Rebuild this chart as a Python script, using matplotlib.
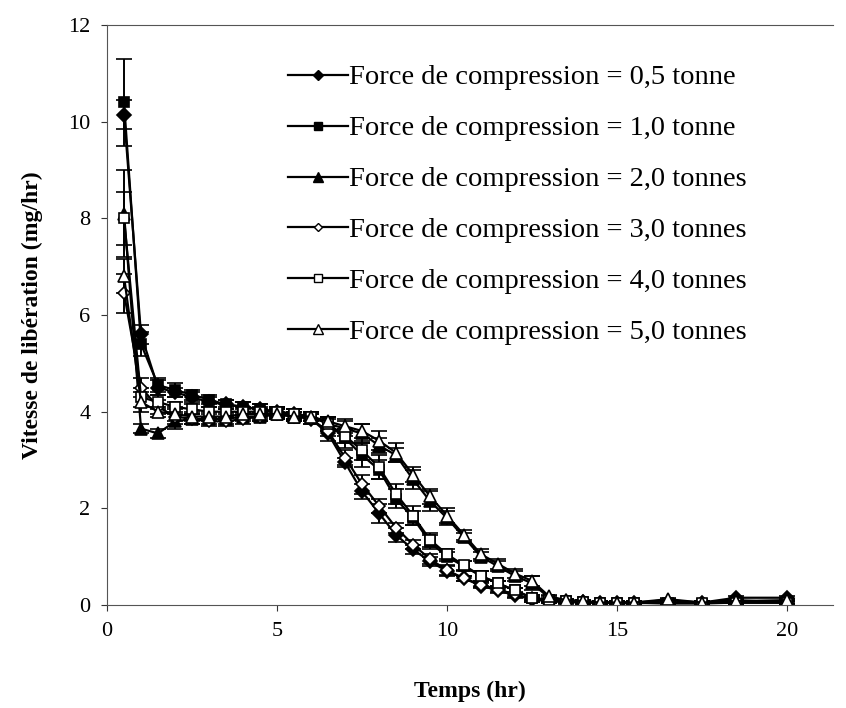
import matplotlib
matplotlib.use('Agg')
import matplotlib.pyplot as plt
from matplotlib.lines import Line2D

plt.rcParams['font.family'] = ['Liberation Serif', 'DejaVu Serif']

temps = [0.5, 1, 1.5, 2, 2.5, 3, 3.5, 4, 4.5, 5, 5.5, 6, 6.5, 7, 7.5, 8, 8.5, 9,
         9.5, 10, 10.5, 11, 11.5, 12, 12.5, 13, 13.5, 14, 14.5, 15, 15.5, 16.5,
         17.5, 18.5, 20]

labels = ["Force de compression = 0,5 tonne",
          "Force de compression = 1,0 tonne",
          "Force de compression = 2,0 tonnes",
          "Force de compression = 3,0 tonnes",
          "Force de compression = 4,0 tonnes",
          "Force de compression = 5,0 tonnes"]

v05 = [10.15, 5.6, 4.5, 4.4, 4.3, 4.2, 4.15, 4.1, 4.05, 4.0, 3.95, 3.85, 3.55, 2.95,
       2.35, 1.9, 1.45, 1.15, 0.9, 0.7, 0.55, 0.4, 0.3, 0.2, 0.12, 0.08, 0.07, 0.06,
       0.05, 0.05, 0.05, 0.05, 0.05, 0.15, 0.15]
v10 = [10.4, 5.4, 4.55, 4.45, 4.35, 4.25, 4.15, 4.1, 4.05, 4.0, 3.95, 3.9, 3.75, 3.45,
       3.1, 2.8, 2.2, 1.8, 1.3, 1.0, 0.8, 0.6, 0.45, 0.3, 0.15, 0.1, 0.08, 0.06,
       0.05, 0.05, 0.05, 0.03, 0.03, 0.05, 0.05]
v20 = [8.1, 3.65, 3.55, 3.8, 3.85, 3.85, 3.85, 3.9, 3.9, 3.95, 3.9, 3.9, 3.75, 3.65,
       3.55, 3.3, 3.1, 2.6, 2.15, 1.8, 1.4, 1.0, 0.8, 0.6, 0.45, 0.15, 0.1, 0.08,
       0.05, 0.03, 0.05, 0.1, 0.05, 0.1, 0.05]
v30 = [6.45, 4.5, 4.1, 3.9, 3.85, 3.8, 3.8, 3.85, 3.9, 3.95, 3.9, 3.85, 3.6, 3.05,
       2.5, 2.05, 1.6, 1.25, 0.95, 0.72, 0.55, 0.42, 0.32, 0.22, 0.12, 0.08, 0.06,
       0.05, 0.05, 0.04, 0.04, 0.04, 0.05, 0.05, 0.05]
v40 = [8.0, 4.3, 4.2, 4.1, 4.05, 4.0, 4.0, 4.0, 4.0, 4.0, 3.95, 3.9, 3.75, 3.5, 3.2,
       2.85, 2.3, 1.85, 1.35, 1.05, 0.82, 0.6, 0.45, 0.3, 0.15, 0.1, 0.08, 0.06,
       0.05, 0.05, 0.05, 0.05, 0.05, 0.05, 0.05]
v50 = [6.8, 4.2, 4.0, 3.95, 3.9, 3.9, 3.9, 3.95, 3.95, 3.95, 3.9, 3.9, 3.8, 3.7, 3.6,
       3.4, 3.15, 2.7, 2.25, 1.85, 1.45, 1.05, 0.85, 0.65, 0.5, 0.18, 0.1, 0.08,
       0.05, 0.05, 0.05, 0.12, 0.05, 0.08, 0.1]

e05 = [0.3, 0.2, 0.15, 0.1, 0.1, 0.1, 0.1, 0.1, 0.1, 0.1, 0.1, 0.1, 0.15, 0.1,
       0.15, 0.2, 0.15, 0.1, 0.1, 0.1, 0.05, 0.05, 0.05, 0.05, 0.05, 0.03, 0.03,
       0.03, 0.03, 0.03, 0.03, 0.03, 0.03, 0.03, 0.03]
e10 = [0.9, 0.25, 0.15, 0.15, 0.1, 0.1, 0.1, 0.1, 0.1, 0.1, 0.1, 0.1, 0.15, 0.2,
       0.25, 0.2, 0.2, 0.15, 0.15, 0.1, 0.1, 0.1, 0.05, 0.05, 0.05, 0.03, 0.03,
       0.03, 0.03, 0.03, 0.03, 0.03, 0.03, 0.03, 0.03]
e20 = [0.9, 0.1, 0.1, 0.15, 0.1, 0.1, 0.1, 0.1, 0.1, 0.1, 0.1, 0.1, 0.1, 0.15,
       0.2, 0.15, 0.15, 0.2, 0.2, 0.15, 0.1, 0.1, 0.1, 0.1, 0.15, 0.03, 0.03,
       0.03, 0.03, 0.03, 0.03, 0.03, 0.03, 0.03, 0.03]
e30 = [0.4, 0.2, 0.15, 0.15, 0.1, 0.1, 0.1, 0.1, 0.1, 0.1, 0.1, 0.1, 0.1, 0.15,
       0.2, 0.15, 0.1, 0.1, 0.1, 0.1, 0.05, 0.05, 0.05, 0.05, 0.05, 0.03, 0.03,
       0.03, 0.03, 0.03, 0.03, 0.03, 0.03, 0.03, 0.03]
e40 = [0.55, 0.2, 0.15, 0.1, 0.1, 0.1, 0.1, 0.1, 0.1, 0.1, 0.1, 0.1, 0.15, 0.15,
       0.2, 0.25, 0.2, 0.2, 0.15, 0.1, 0.1, 0.1, 0.05, 0.05, 0.05, 0.03, 0.03,
       0.03, 0.03, 0.03, 0.03, 0.03, 0.03, 0.03, 0.03]
e50 = [0.35, 0.2, 0.1, 0.15, 0.1, 0.1, 0.1, 0.1, 0.1, 0.1, 0.1, 0.1, 0.1, 0.15,
       0.15, 0.2, 0.2, 0.15, 0.15, 0.15, 0.1, 0.1, 0.1, 0.1, 0.1, 0.03, 0.03,
       0.03, 0.03, 0.03, 0.03, 0.03, 0.03, 0.03, 0.03]

series = [v05, v10, v20, v30, v40, v50]
errors = [e05, e10, e20, e30, e40, e50]
markers = ['D', 's', '^', 'D', 's', '^']
sizes = [7, 7, 8, 6, 7, 8]
filled = [True, True, True, False, False, False]

fig = plt.figure(figsize=(8.46, 7.08), dpi=100)
ax = fig.add_axes([0.1265, 0.1455, 0.858, 0.819])

handles = []
for vals, err, m, ms, f, lab in zip(series, errors, markers, sizes, filled, labels):
    fc = 'black' if f else 'white'
    ax.errorbar(temps, vals, yerr=err, color='black', marker=m, markersize=ms,
                markerfacecolor=fc, markeredgecolor='black',
                markeredgewidth=1.2, linewidth=1.6, elinewidth=1.4, capsize=6,
                capthick=1.4)
    # legend entry: line + small marker, no error bar
    handles.append(Line2D([], [], color='black', marker=m, markersize=ms - 1.5,
                          markerfacecolor=fc, markeredgecolor='black',
                          markeredgewidth=1.0, linewidth=1.6, label=lab))

ax.set_xlim(0, 21.35)
ax.set_ylim(0, 12)
ax.set_xticks([0, 5, 10, 15, 20])
ax.set_yticks([0, 2, 4, 6, 8, 10, 12])
ax.tick_params(labelsize=16, direction='out', length=4, width=0.8, colors='#333333',
               labelcolor='black', pad=8)
ax.spines['right'].set_visible(False)
for s in ['left', 'bottom', 'top']:
    ax.spines[s].set_color('#555555')
    ax.spines[s].set_linewidth(0.8)

ax.set_xlabel("Temps (hr)", fontsize=17, fontweight='bold', labelpad=29)
ax.set_ylabel("Vitesse de libération (mg/hr)", fontsize=17, fontweight='bold', labelpad=18)

ax.legend(handles=handles, loc='upper left', bbox_to_anchor=(0.249, 0.932),
          frameon=False, fontsize=20.5, labelspacing=0.88, handlelength=2.1,
          handletextpad=0.05, borderaxespad=0.0, borderpad=0.0)

fig.savefig('out.png', dpi=100)
